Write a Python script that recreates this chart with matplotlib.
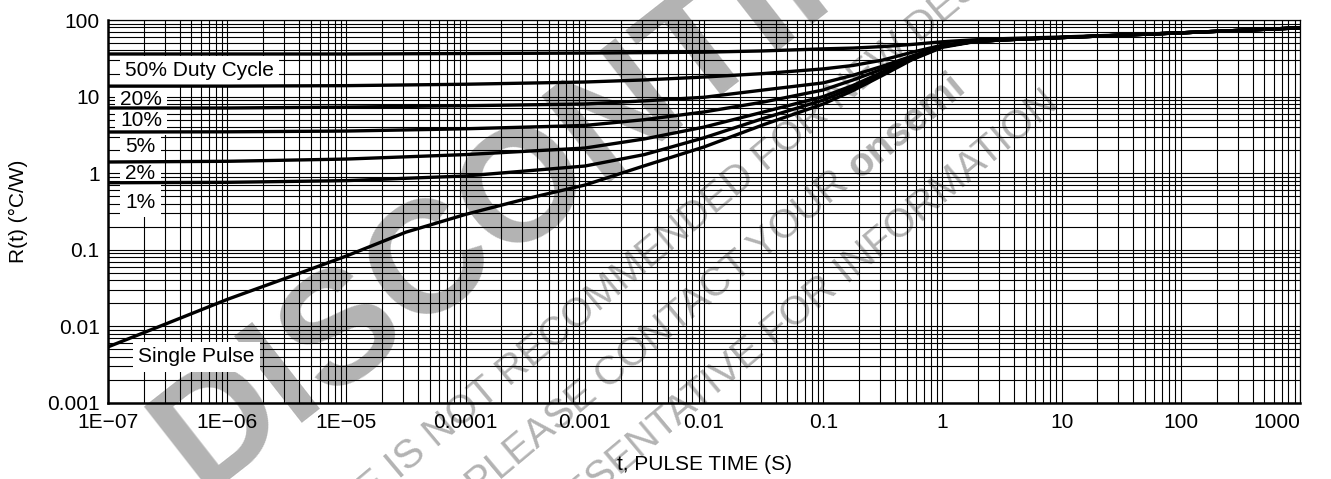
import numpy as np
import matplotlib
matplotlib.use("Agg")
import matplotlib.pyplot as plt
from matplotlib.ticker import LogLocator, NullFormatter

plt.rcParams['font.family'] = ['Liberation Sans', 'DejaVu Sans']

# pulse time (s) and thermal resistance R(t) (degC/W)
t_duty = [1e-7, 1e-6, 1e-5, 1e-4, 1e-3, 3.16e-3, 1e-2, 3.16e-2, 0.1, 0.178, 0.316, 0.56,
          1, 1.78, 3.16, 10, 100, 1000]
r_50 = [36, 36, 36, 36.5, 37, 37.5, 38, 39.5, 42, 43, 45, 48, 52, 55, 57, 60, 68, 79]
r_20 = [13.7, 13.7, 13.9, 14.5, 15.5, 16.5, 18, 20, 23, 25.5, 30, 38, 47, 52, 55, 59, 68, 79]
r_10 = [7.1, 7.1, 7.3, 7.6, 8.0, 8.8, 9.8, 12.2, 15.1, 19, 25, 34, 46, 52, 55, 59, 68, 79]
r_5 = [3.45, 3.47, 3.55, 3.8, 4.2, 5.0, 6.3, 8.5, 12.2, 16.5, 23, 33, 45, 52, 55, 59, 68, 79]
r_2 = [1.4, 1.43, 1.53, 1.75, 2.13, 2.8, 4.0, 6.3, 10, 14, 21, 31.5, 45, 52, 55, 59, 68, 79]
r_1 = [0.75, 0.76, 0.8, 0.92, 1.24, 1.75, 2.9, 5.2, 9.0, 13, 20, 31, 45, 52, 55, 59, 68, 79]

t_single = [1e-7, 3.16e-7, 1e-6, 3.16e-6, 1e-5, 3.16e-5, 1e-4, 3.16e-4, 1e-3, 3.16e-3,
            1e-2, 3.16e-2, 0.1, 0.178, 0.316, 0.56, 1, 1.78, 3.16, 10, 100, 1000]
r_single = [0.0054, 0.011, 0.0225, 0.043, 0.083, 0.17, 0.29, 0.46, 0.70, 1.25,
            2.2, 4.3, 8.0, 12, 19, 30.5, 44, 51.5, 55, 59, 68, 79]

x_ticks = [1e-7, 1e-6, 1e-5, 1e-4, 1e-3, 1e-2, 0.1, 1, 10, 100, 1000]
x_labels = ['1E\u221207', '1E\u221206', '1E\u221205', '0.0001', '0.001', '0.01',
            '0.1', '1', '10', '100', '1000']
y_ticks = [0.001, 0.01, 0.1, 1, 10, 100]
y_labels = ['0.001', '0.01', '0.1', '1', '10', '100']

W, H = 1331, 479
fig = plt.figure(figsize=(W / 100, H / 100), dpi=100)
ax = fig.add_axes([108 / W, 1 - 403 / H, (1300 - 108) / W, (403 - 20) / H])
ax.set_facecolor('none')

# watermark (behind the grid), positions in figure pixels from the top-left
gray = '#b3b3b3'
fig.text(680 / W, 1 - 119 / H, 'DISCONTINUED', fontsize=115, fontweight='bold',
         color=gray, rotation=38, rotation_mode='anchor', ha='center', va='baseline', zorder=-1)
fig.text(610 / W, 1 - 288 / H, 'THIS DEVICE IS NOT RECOMMENDED FOR NEW DESIGN', fontsize=29,
         color=gray, rotation=40, rotation_mode='anchor', ha='center', va='center', zorder=-1)
fig.text(770 / W, 1 - 336 / H, 'REPRESENTATIVE FOR INFORMATION', fontsize=29,
         color=gray, rotation=40, rotation_mode='anchor', ha='center', va='center', zorder=-1)

# second line has "onsemi" in bold: place it right after the regular part
ang = np.radians(40)
x0, y0 = 706 - 0.5 * 610 * np.cos(ang), (H - 294) - 0.5 * 610 * np.sin(ang)
tmp = fig.text(0, 0, 'PLEASE CONTACT YOUR', fontsize=29)
r = fig.canvas.get_renderer()
w1 = tmp.get_window_extent(r).width + 0.278 * 29 * 100 / 72
tmp.remove()
fig.text(x0 / W, y0 / H, 'PLEASE CONTACT YOUR', fontsize=29, color=gray, rotation=40,
         rotation_mode='anchor', ha='left', va='center', zorder=-1)
fig.text((x0 + w1 * np.cos(ang)) / W, (y0 + w1 * np.sin(ang)) / H, 'onsemi', fontsize=29,
         fontweight='bold', color=gray, rotation=40, rotation_mode='anchor',
         ha='left', va='center', zorder=-1)

for rv in [r_50, r_20, r_10, r_5, r_2, r_1]:
    ax.plot(t_duty, rv, color='black', lw=2.4, zorder=3, solid_joinstyle='round')
ax.plot(t_single, r_single, color='black', lw=2.4, zorder=3, solid_joinstyle='round')

ax.set_xscale('log')
ax.set_yscale('log')
ax.set_xlim(1e-7, 1000)
ax.set_ylim(0.001, 100)
ax.xaxis.set_minor_locator(LogLocator(base=10, subs=np.arange(2, 10), numticks=30))
ax.yaxis.set_minor_locator(LogLocator(base=10, subs=np.arange(2, 10), numticks=30))
ax.xaxis.set_minor_formatter(NullFormatter())
ax.yaxis.set_minor_formatter(NullFormatter())
ax.set_xticks(x_ticks)
ax.set_xticklabels(x_labels)
ax.set_yticks(y_ticks)
ax.set_yticklabels(y_labels)
ax.xaxis.get_majorticklabels()[-1].set_horizontalalignment('right')
ax.tick_params(which='both', length=0, labelsize=15, colors='black')
ax.tick_params(axis='x', pad=7)
ax.tick_params(axis='y', pad=6)
ax.set_axisbelow(True)
ax.grid(which='both', color='black', lw=0.8)

for s in ['top', 'right']:
    ax.spines[s].set_linewidth(0.9)
for s in ['left', 'bottom']:
    ax.spines[s].set_linewidth(1.8)

# curve labels
box = dict(boxstyle='square,pad=0.25', fc='white', ec='none')
labels = [('50% Duty Cycle', 1.39e-7, 22), ('20%', 1.26e-7, 9.3), ('10%', 1.26e-7, 4.9),
          ('5%', 1.4e-7, 2.2), ('2%', 1.4e-7, 1.0), ('1%', 1.4e-7, 0.42),
          ('Single Pulse', 1.79e-7, 0.004)]
for txt, x, y in labels:
    ax.text(x, y, txt, fontsize=15, ha='left', va='center', bbox=box, zorder=2.6)

fig.text(18 / W, 1 - 211 / H, 'R(t) (\u00b0C/W)', rotation=90, fontsize=15,
         ha='center', va='center')
fig.text(705 / W, 1 - 465 / H, 't, PULSE TIME (S)', fontsize=15, ha='center', va='center')

fig.savefig('out.png', dpi=100, facecolor='white')
